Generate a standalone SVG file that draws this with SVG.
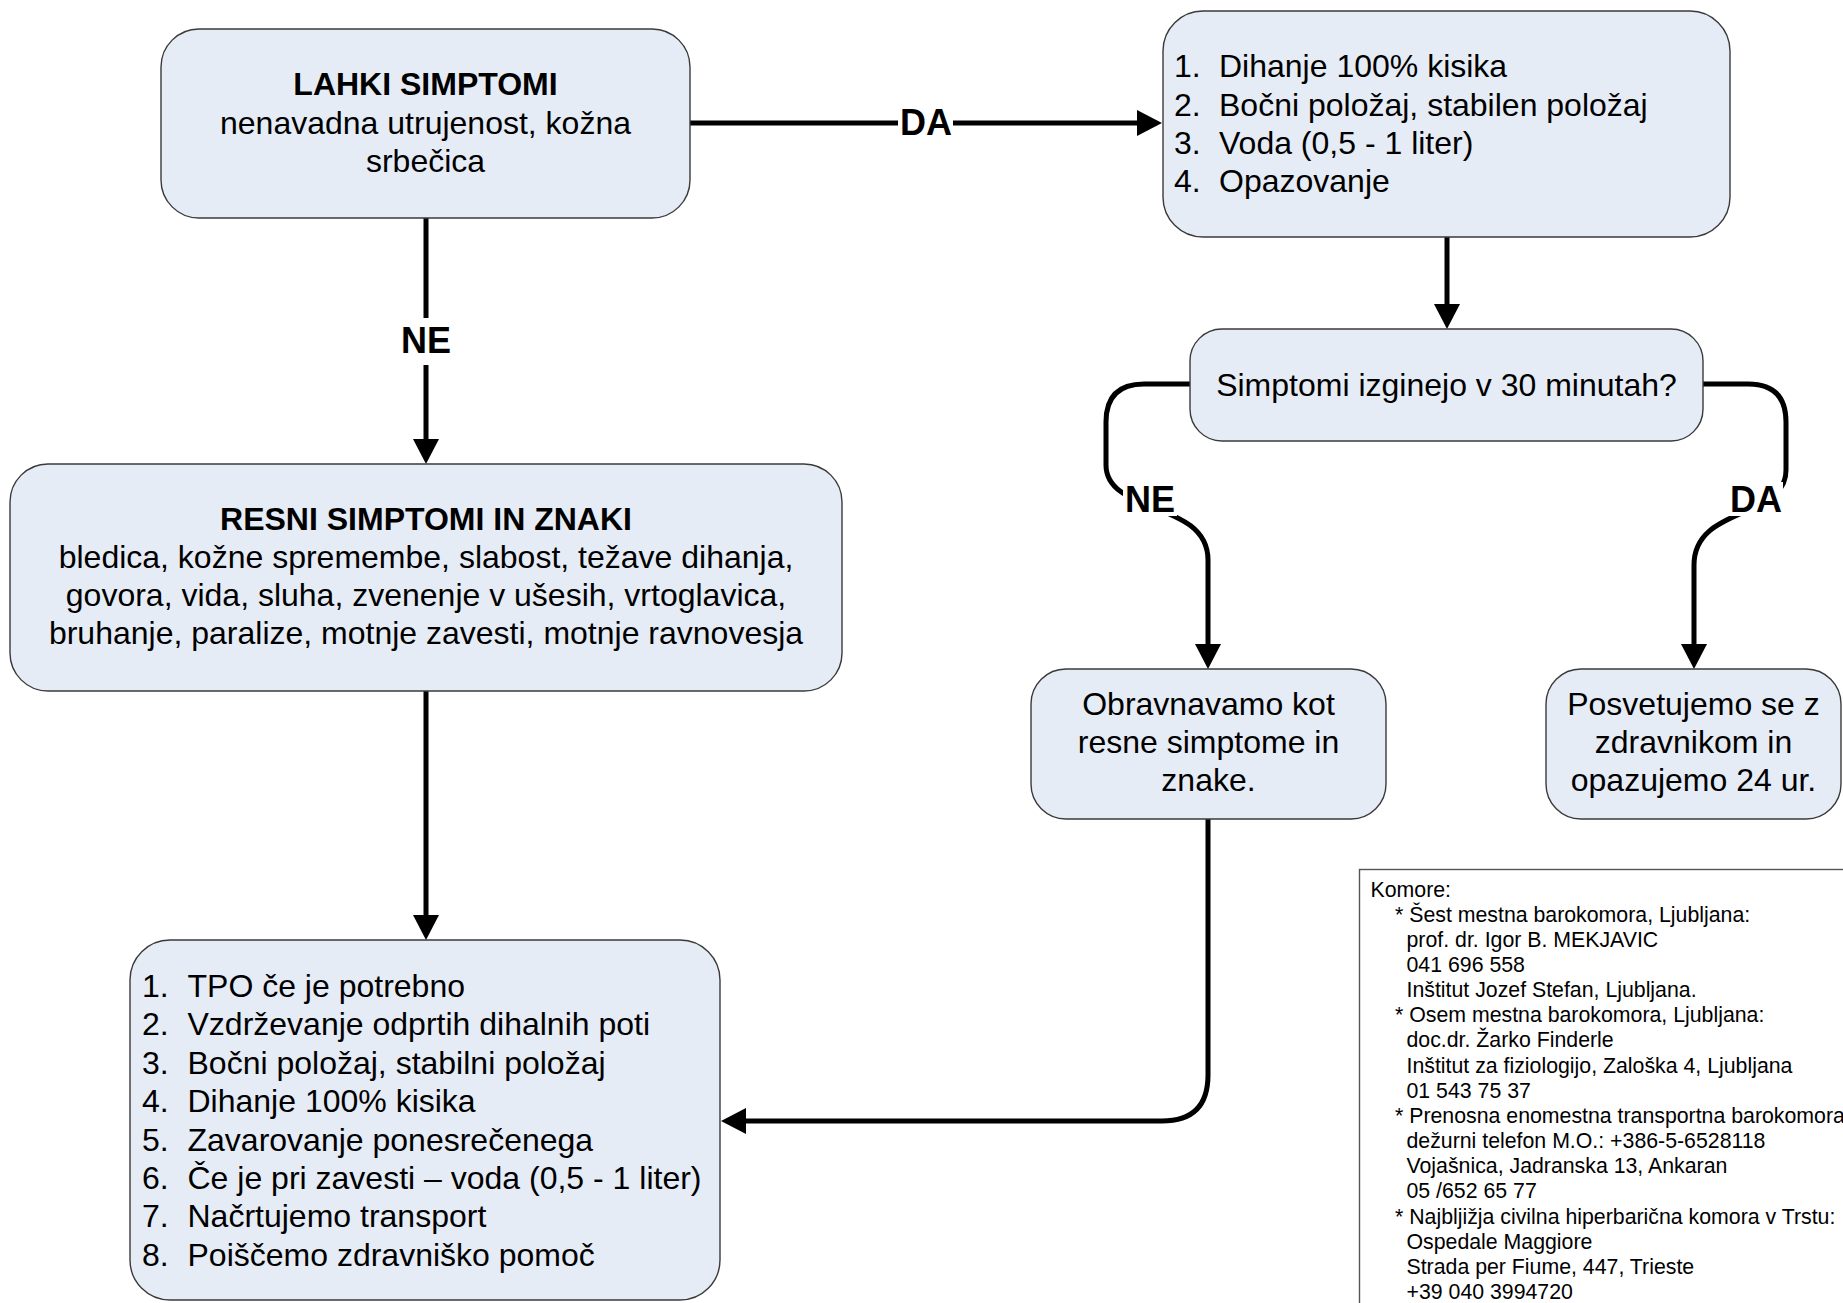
<svg xmlns="http://www.w3.org/2000/svg" width="1843" height="1303" viewBox="0 0 1843 1303">
<style>
.box{fill:#E6ECF6;stroke:#3a3a3a;stroke-width:1.4}
.t{font-family:"Liberation Sans",Arial,sans-serif;font-size:32px;fill:#000}
.c{text-anchor:middle}
.b{font-weight:bold}
.edge{fill:none;stroke:#000;stroke-width:5;stroke-linecap:round}
.lbl{font-family:"Liberation Sans",Arial,sans-serif;font-size:36px;font-weight:bold;fill:#000;text-anchor:middle}
.k{font-family:"Liberation Sans",Arial,sans-serif;font-size:21.3px;fill:#000}
</style>
<defs>
<marker id="arr" viewBox="0 0 25 26" refX="0" refY="13" markerWidth="25" markerHeight="26" markerUnits="userSpaceOnUse" orient="auto">
<path d="M0,0 L25,13 L0,26 Z" fill="#000"/>
</marker>
</defs>
<rect width="1843" height="1303" fill="#fff"/>

<g id="connectors">
<path class="edge" d="M690,123 H1137" marker-end="url(#arr)"/>
<path class="edge" d="M426,218 V439" marker-end="url(#arr)"/>
<path class="edge" d="M1447,237 V304" marker-end="url(#arr)"/>
<path class="edge" d="M1190,384 H1144 Q1106,384 1106,422 V465 C1106,515 1208,500 1208,560 V644" marker-end="url(#arr)"/>
<path class="edge" d="M1703,384 H1748 Q1786,384 1786,422 V470 C1786,520 1694,505 1694,565 V644" marker-end="url(#arr)"/>
<path class="edge" d="M426,691 V915" marker-end="url(#arr)"/>
<path class="edge" d="M1208,819 V1075 Q1208,1121 1162,1121 H746" marker-end="url(#arr)"/>
<rect x="898" y="104" width="55" height="38" fill="#fff"/>
<text class="lbl" x="926" y="135">DA</text>
<rect x="400" y="318" width="52" height="47" fill="#fff"/>
<text class="lbl" x="426" y="353">NE</text>
<rect x="1123" y="482" width="54" height="34" fill="#fff"/>
<text class="lbl" x="1150" y="512">NE</text>
<rect x="1728" y="482" width="55" height="34" fill="#fff"/>
<text class="lbl" x="1756" y="512">DA</text>
</g>

<g id="lahki">
<rect class="box" x="161" y="29" width="529" height="189" rx="38"/>
<text class="t c b" x="425.5" y="95">LAHKI SIMPTOMI</text>
<text class="t c" x="425.5" y="133.5">nenavadna utrujenost, kožna</text>
<text class="t c" x="425.5" y="172">srbečica</text>
</g>

<g id="ukrepi1">
<rect class="box" x="1163" y="11" width="567" height="226" rx="40"/>
<text class="t" x="1174" y="77">1.</text><text class="t" x="1219" y="77">Dihanje 100% kisika</text>
<text class="t" x="1174" y="115.5">2.</text><text class="t" x="1219" y="115.5">Bočni položaj, stabilen položaj</text>
<text class="t" x="1174" y="154">3.</text><text class="t" x="1219" y="154">Voda (0,5 - 1 liter)</text>
<text class="t" x="1174" y="192">4.</text><text class="t" x="1219" y="192">Opazovanje</text>
</g>

<g id="odlocitev">
<rect class="box" x="1190" y="329" width="513" height="112" rx="32"/>
<text class="t c" x="1446.5" y="396">Simptomi izginejo v 30 minutah?</text>
</g>

<g id="resni">
<rect class="box" x="10" y="464" width="832" height="227" rx="38"/>
<text class="t c b" x="426" y="530">RESNI SIMPTOMI IN ZNAKI</text>
<text class="t c" x="426" y="568">bledica, kožne spremembe, slabost, težave dihanja,</text>
<text class="t c" x="426" y="606">govora, vida, sluha, zvenenje v ušesih, vrtoglavica,</text>
<text class="t c" x="426" y="644">bruhanje, paralize, motnje zavesti, motnje ravnovesja</text>
</g>

<g id="obravnavamo">
<rect class="box" x="1031" y="669" width="355" height="150" rx="35"/>
<text class="t c" x="1208.5" y="715">Obravnavamo kot</text>
<text class="t c" x="1208.5" y="753">resne simptome in</text>
<text class="t c" x="1208.5" y="791">znake.</text>
</g>

<g id="posvetujemo">
<rect class="box" x="1546" y="669" width="295" height="150" rx="35"/>
<text class="t c" x="1693.5" y="715">Posvetujemo se z</text>
<text class="t c" x="1693.5" y="753">zdravnikom in</text>
<text class="t c" x="1693.5" y="791">opazujemo 24 ur.</text>
</g>

<g id="ukrepi2">
<rect class="box" x="130" y="940" width="590" height="360" rx="40"/>
<text class="t" x="142" y="997">1.</text><text class="t" x="187.5" y="997">TPO če je potrebno</text>
<text class="t" x="142" y="1035.4">2.</text><text class="t" x="187.5" y="1035.4">Vzdrževanje odprtih dihalnih poti</text>
<text class="t" x="142" y="1073.8">3.</text><text class="t" x="187.5" y="1073.8">Bočni položaj, stabilni položaj</text>
<text class="t" x="142" y="1112.2">4.</text><text class="t" x="187.5" y="1112.2">Dihanje 100% kisika</text>
<text class="t" x="142" y="1150.6">5.</text><text class="t" x="187.5" y="1150.6">Zavarovanje ponesrečenega</text>
<text class="t" x="142" y="1189">6.</text><text class="t" x="187.5" y="1189">Če je pri zavesti – voda (0,5 - 1 liter)</text>
<text class="t" x="142" y="1227.4">7.</text><text class="t" x="187.5" y="1227.4">Načrtujemo transport</text>
<text class="t" x="142" y="1265.8">8.</text><text class="t" x="187.5" y="1265.8">Poiščemo zdravniško pomoč</text>
</g>

<g id="komore">
<rect x="1359.5" y="869.5" width="560" height="500" fill="#fff" stroke="#555" stroke-width="1.4"/>
<text class="k" x="1370.5" y="896.5">Komore:</text>
<text class="k" x="1395" y="921.7">* Šest mestna barokomora, Ljubljana:</text>
<text class="k" x="1406.5" y="946.8">prof. dr. Igor B. MEKJAVIC</text>
<text class="k" x="1406.5" y="972">041 696 558</text>
<text class="k" x="1406.5" y="997.1">Inštitut Jozef Stefan, Ljubljana.</text>
<text class="k" x="1395" y="1022.3">* Osem mestna barokomora, Ljubljana:</text>
<text class="k" x="1406.5" y="1047.4">doc.dr. Žarko Finderle</text>
<text class="k" x="1406.5" y="1072.6">Inštitut za fiziologijo, Zaloška 4, Ljubljana</text>
<text class="k" x="1406.5" y="1097.7">01 543 75 37</text>
<text class="k" x="1395" y="1122.9">* Prenosna enomestna transportna barokomora</text>
<text class="k" x="1406.5" y="1148">dežurni telefon M.O.: +386-5-6528118</text>
<text class="k" x="1406.5" y="1173.2">Vojašnica, Jadranska 13, Ankaran</text>
<text class="k" x="1406.5" y="1198.3">05 /652 65 77</text>
<text class="k" x="1395" y="1223.5">* Najbljižja civilna hiperbarična komora v Trstu:</text>
<text class="k" x="1406.5" y="1248.6">Ospedale Maggiore</text>
<text class="k" x="1406.5" y="1273.8">Strada per Fiume, 447, Trieste</text>
<text class="k" x="1406.5" y="1298.9">+39 040 3994720</text>
</g>
</svg>
